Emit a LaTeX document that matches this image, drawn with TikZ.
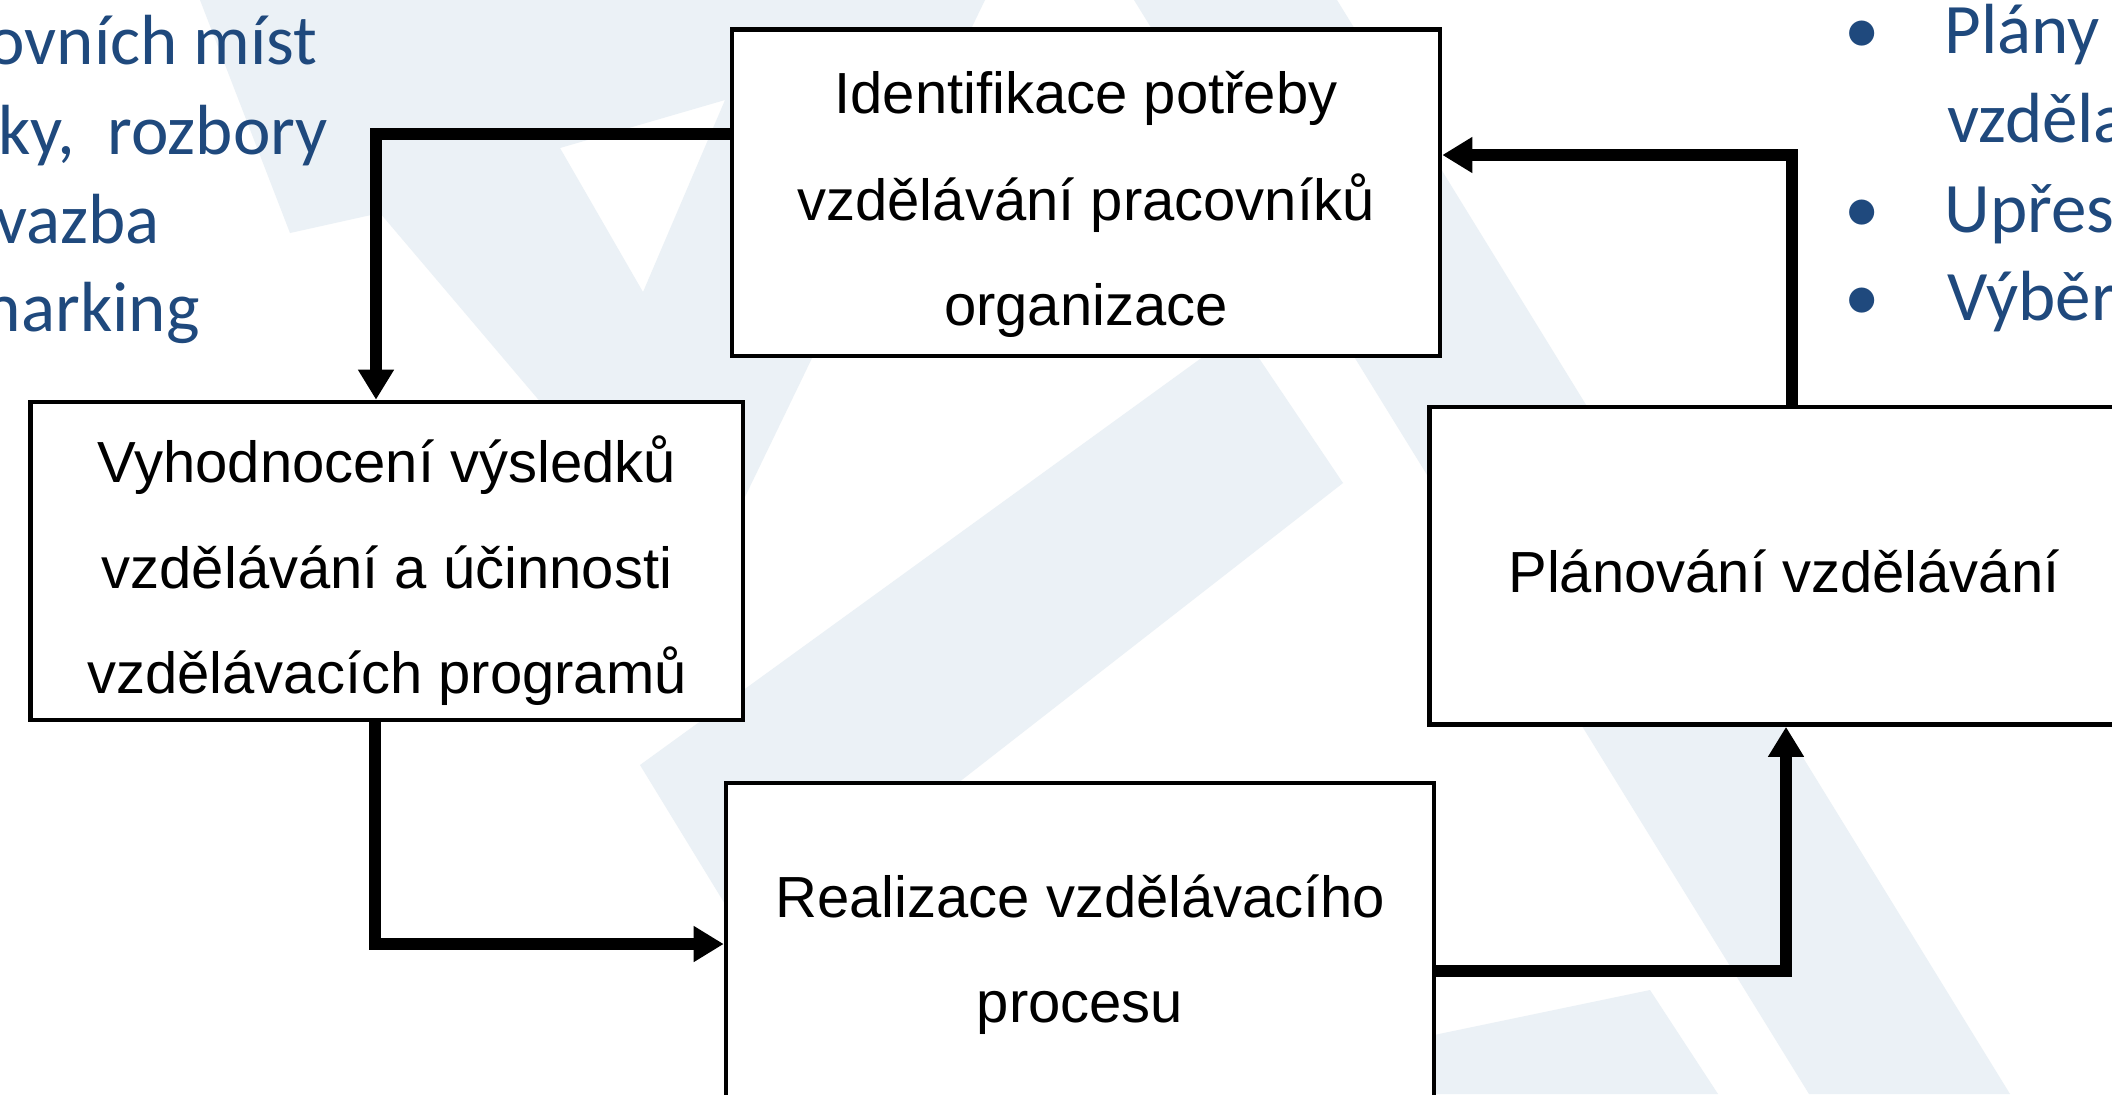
\documentclass[tikz,border=0pt]{standalone}
\usepackage{fontspec}
\setmainfont{Liberation Sans}
\newfontfamily\calib{Carlito}
\usetikzlibrary{arrows.meta}
\definecolor{wm}{RGB}{235,241,246}
\definecolor{slideblue}{RGB}{31,73,125}
\begin{document}
\begin{tikzpicture}[x=0.5pt,y=-0.5pt,
  box/.style={draw=black, line width=2.3pt, fill=white, rectangle, inner sep=0pt},
  boxtxt/.style={anchor=base, font=\fontsize{29pt}{34pt}\selectfont, inner sep=0pt},
  bluetxt/.style={font=\calib\fontsize{35.5pt}{42pt}\selectfont, text=slideblue, inner sep=0pt},
  conn/.style={line width=5.8pt, line join=miter, -{Triangle[length=15pt,width=17pt]}}]
\useasboundingbox (0,0) rectangle (2112,1094);
\clip (0,0) rectangle (2112,1094);
\fill[white] (0,0) rectangle (2112,1094);
% watermark
\fill[wm, even odd rule] (200,0) -- (290,233) -- (380,213) -- (700,590) -- (985,0) -- cycle
  (560,148) -- (725,100) -- (643,292) -- cycle;
\fill[wm] (640,765) -- (750,945) -- (1343,483) -- (1240,330) -- cycle;
\fill[wm] (1134,0) -- (1337,0) -- (2010,1094) -- (1809,1094) -- cycle;
\fill[wm] (1434,1035) -- (1650,990) -- (1718,1094) -- (1434,1094) -- cycle;
% slide text left
\node[bluetxt, anchor=base east] (l1) at (318,64) {ovních míst};
\node[bluetxt, anchor=base east] (l2) at (328,154) {ky,\ \ rozbory};
\node[bluetxt, anchor=base east] (l3) at (160,243) {vazba};
\node[bluetxt, anchor=base east] (l4) at (200,331) {marking};
% slide text right
\node[bluetxt, anchor=base] (d1) at (1862,53) {•};
\node[bluetxt, anchor=base] (d2) at (1862,232) {•};
\node[bluetxt, anchor=base] (d3) at (1862,320) {•};
\node[bluetxt, anchor=base west] (r1) at (1944,53) {Plány};
\node[bluetxt, anchor=base west] (r2) at (1947,142) {vzděla};
\node[bluetxt, anchor=base west] (r3) at (1944,232) {Upřes};
\node[bluetxt, anchor=base west] (r4) at (1947,320) {Výběr};
% boxes
\node[box, minimum width=354pt, minimum height=163.25pt] (top) at (1086,192.75) {};
\node[box, minimum width=356.25pt, minimum height=159pt] (left) at (386.75,561) {};
\node[box, minimum width=354.25pt, minimum height=158.75pt] (right) at (1783.75,565.75) {};
\node[box, minimum width=354pt, minimum height=159.5pt] (bot) at (1080,942.5) {};
% box texts
\node[boxtxt] (ta) at (1086,113) {Identifikace potřeby};
\node[boxtxt] (tb) at (1086,220) {vzdělávání pracovníků};
\node[boxtxt] (tc) at (1086,325) {organizace};
\node[boxtxt] (la) at (387,482) {Vyhodnocení výsledků};
\node[boxtxt] (lb) at (387,588) {vzdělávání a účinnosti};
\node[boxtxt] (lc) at (387,693) {vzdělávacích programů};
\node[boxtxt] (ra) at (1784,592) {Plánování vzdělávání};
\node[boxtxt] (ba) at (1080,917) {Realizace vzdělávacího};
\node[boxtxt] (bb) at (1080,1022) {procesu};
% connectors
\coordinate (b1) at (376,134);
\coordinate (b2) at (375,944);
\coordinate (b3) at (1786,971);
\coordinate (b4) at (1792,155);
\draw[conn] (top.west |- b1) -- (b1) -- (left.north -| b1);
\draw[conn] (left.south -| b2) -- (b2) -- (bot.west |- b2);
\draw[conn] (bot.east |- b3) -- (b3) -- (right.south -| b3);
\draw[conn] (right.north -| b4) -- (b4) -- (top.east |- b4);
\end{tikzpicture}
\end{document}
